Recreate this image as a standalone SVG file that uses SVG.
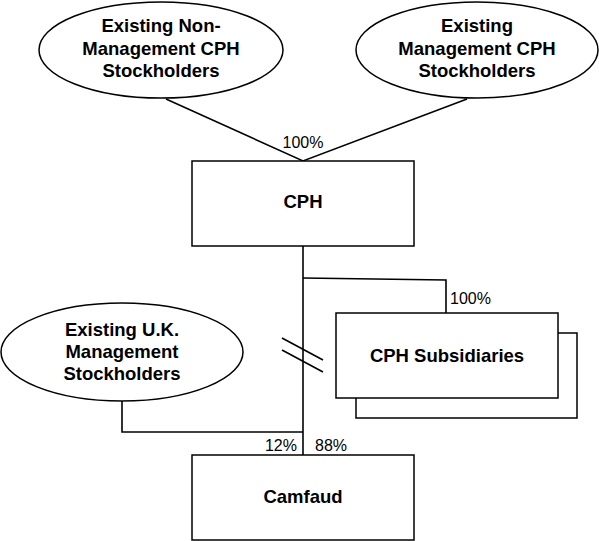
<svg xmlns="http://www.w3.org/2000/svg" width="599" height="541" viewBox="0 0 599 541">
<style>
.s{fill:#fff;stroke:#000;stroke-width:1.5}
.l{fill:none;stroke:#000;stroke-width:1.6}
.b{font-family:"Liberation Sans",Arial,sans-serif;font-weight:bold;font-size:18.5px;text-anchor:middle;fill:#000}
.p{font-family:"Liberation Sans",Arial,sans-serif;font-size:16px;fill:#000}
</style>
<rect width="599" height="541" fill="#fff"/>
<g id="connectors">
<polyline class="l" points="166,99 303,161 467,99"/>
<line class="l" x1="303" y1="246" x2="303" y2="455"/>
<polyline class="l" points="303,278 446,280 446,313"/>
<polyline class="l" points="122,401 122,432 303,432"/>
<line class="l" x1="282" y1="338" x2="323" y2="360"/>
<line class="l" x1="282" y1="350" x2="323" y2="372"/>
<text class="p" x="303" y="148" text-anchor="middle">100%</text>
<text class="p" x="450" y="304">100%</text>
<text class="p" x="297" y="451" text-anchor="end">12%</text>
<text class="p" x="315" y="451">88%</text>
</g>
<g id="nonmgmt">
<ellipse class="s" cx="161" cy="50" rx="122" ry="48"/>
<text class="b" x="161" y="32">Existing Non-</text>
<text class="b" x="161" y="55">Management CPH</text>
<text class="b" x="161" y="77">Stockholders</text>
</g>
<g id="mgmt">
<ellipse class="s" cx="477" cy="50" rx="121" ry="48"/>
<text class="b" x="477" y="32">Existing</text>
<text class="b" x="477" y="55">Management CPH</text>
<text class="b" x="477" y="77">Stockholders</text>
</g>
<g id="cph">
<rect class="s" x="192" y="161" width="222" height="85"/>
<text class="b" x="303" y="208">CPH</text>
</g>
<g id="subs">
<rect class="s" x="356" y="333" width="221" height="85"/>
<rect class="s" x="336" y="313" width="222" height="85"/>
<text class="b" x="447" y="362">CPH Subsidiaries</text>
</g>
<g id="uk">
<ellipse class="s" cx="122" cy="352" rx="121" ry="49"/>
<text class="b" x="122" y="336">Existing U.K.</text>
<text class="b" x="122" y="358">Management</text>
<text class="b" x="122" y="380">Stockholders</text>
</g>
<g id="camfaud">
<rect class="s" x="192" y="455" width="222" height="85"/>
<text class="b" x="303" y="503">Camfaud</text>
</g>
</svg>
